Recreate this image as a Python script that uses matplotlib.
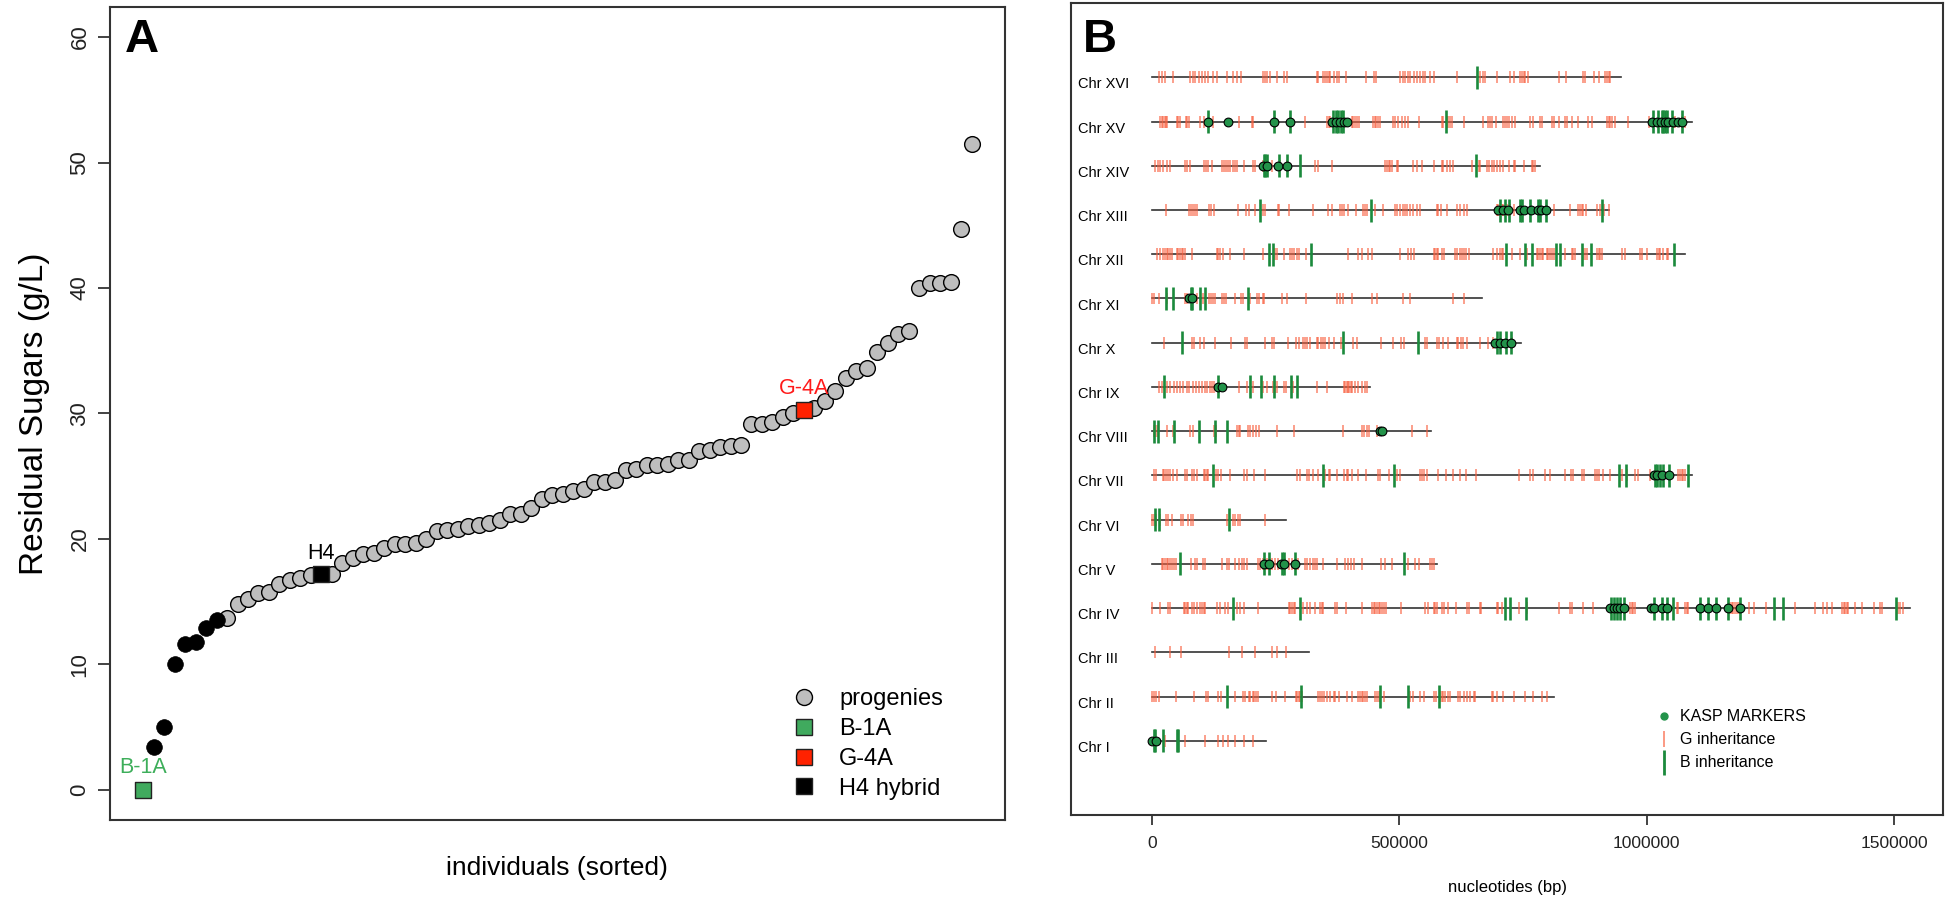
import numpy as np
import matplotlib
matplotlib.use("Agg")
import matplotlib.pyplot as plt
from matplotlib.lines import Line2D

plt.rcParams['font.family'] = ['Liberation Sans', 'DejaVu Sans']

# ---- panel A data: residual sugars of sorted individuals
sugars = [0.0,
          3.4, 5.0, 10.0, 11.6, 11.8, 12.9, 13.5,
          13.7, 14.8, 15.2, 15.7, 15.8, 16.4, 16.7, 16.9, 17.1,
          17.2, 17.2,
          18.1, 18.5, 18.8, 18.9, 19.3, 19.6, 19.6, 19.7, 20.0, 20.6, 20.7, 20.8,
          21.0, 21.1, 21.3, 21.5, 22.0, 22.0, 22.5, 23.2, 23.5, 23.6, 23.8, 24.0,
          24.5, 24.5, 24.7, 25.5, 25.6, 25.9, 25.9, 26.0, 26.3, 26.3, 27.0, 27.1,
          27.3, 27.4, 27.5,
          29.2, 29.2, 29.3, 29.7, 30.0,
          30.3, 30.4,
          31.0, 31.8, 32.8, 33.4, 33.6, 34.9, 35.6, 36.3, 36.6, 40.0, 40.4, 40.4,
          40.5, 44.7, 51.5]
b1a_pos = 1
black_pos = [2, 3, 4, 5, 6, 7, 8]
h4_pos = 18
g4a_pos = 64

# ---- panel B data (positions in kb), chromosomes I..XVI
chr_names = ['Chr I', 'Chr II', 'Chr III', 'Chr IV', 'Chr V', 'Chr VI', 'Chr VII',
             'Chr VIII', 'Chr IX', 'Chr X', 'Chr XI', 'Chr XII', 'Chr XIII',
             'Chr XIV', 'Chr XV', 'Chr XVI']
chr_len = [230, 813, 317, 1532, 577, 270, 1091, 563, 440, 745, 667, 1078, 924, 784, 1091, 948]

g_inherit = [
    [26, 67, 107, 134, 144, 154, 168, 185, 204],
    [0, 4, 8, 13, 49, 84, 109, 114, 134, 139, 168, 183, 188, 195, 198, 204, 207, 210, 214, 242,
     251, 269, 291, 294, 297, 299, 303, 336, 340, 343, 348, 353, 360, 367, 370, 377, 394, 404,
     417, 421, 424, 427, 431, 434, 451, 454, 458, 461, 468, 522, 528, 542, 549, 571, 574, 582,
     586, 589, 592, 599, 603, 619, 623, 630, 636, 643, 650, 653, 687, 690, 697, 710, 731, 754,
     771, 788, 798],
    [6, 36, 59, 156, 181, 208, 242, 252, 271],
    [0, 16, 32, 36, 65, 67, 70, 73, 80, 85, 90, 96, 100, 104, 106, 131, 137, 148, 154, 171, 178,
     185, 215, 276, 279, 282, 286, 289, 306, 313, 319, 330, 340, 343, 346, 370, 373, 392, 424,
     444, 448, 451, 454, 458, 461, 464, 468, 473, 503, 552, 557, 569, 572, 576, 586, 590, 599,
     615, 636, 640, 662, 665, 697, 700, 707, 741, 758, 822, 845, 849, 871, 891, 966, 970, 973,
     977, 1061, 1064, 1078, 1081, 1084, 1169, 1172, 1175, 1179, 1182, 1186, 1206, 1216, 1242,
     1299, 1341, 1357, 1364, 1374, 1394, 1398, 1401, 1405, 1408, 1422, 1435, 1459, 1472, 1475,
     1509, 1512, 1519],
    [20, 23, 26, 30, 33, 36, 40, 44, 49, 78, 87, 90, 102, 107, 141, 151, 156, 168, 175, 181, 185,
     191, 215, 218, 224, 232, 242, 249, 255, 269, 276, 282, 296, 309, 314, 319, 325, 330, 334,
     346, 373, 390, 397, 402, 408, 424, 462, 471, 485, 518, 532, 539, 562, 566, 569],
    [0, 4, 8, 15, 28, 33, 40, 58, 63, 73, 78, 83, 151, 163, 168, 173, 178, 228],
    [3, 8, 22, 25, 28, 33, 36, 43, 51, 67, 71, 80, 85, 90, 104, 107, 111, 114, 129, 134, 140, 158,
     185, 191, 206, 228, 293, 299, 314, 318, 326, 336, 350, 357, 360, 373, 388, 394, 397, 404,
     417, 433, 456, 460, 480, 496, 501, 541, 545, 549, 555, 579, 594, 609, 623, 635, 655, 741,
     764, 771, 795, 805, 835, 847, 852, 869, 874, 896, 899, 903, 911, 926, 950, 961, 977, 983,
     1006, 1064, 1068, 1071, 1074, 1078],
    [4, 8, 11, 30, 43, 77, 82, 125, 129, 171, 175, 178, 193, 198, 205, 210, 217, 253, 287, 387,
     424, 429, 434, 439, 454, 525, 555],
    [13, 20, 30, 36, 44, 51, 57, 63, 70, 75, 82, 89, 94, 100, 107, 111, 117, 121, 125, 175, 191,
     204, 225, 232, 244, 249, 253, 266, 271, 284, 334, 353, 388, 391, 394, 396, 399, 402, 404,
     410, 417, 424, 431, 434],
    [24, 80, 85, 97, 104, 127, 160, 188, 191, 228, 242, 247, 274, 291, 298, 305, 309, 314, 319,
     333, 336, 341, 345, 350, 357, 367, 381, 407, 414, 462, 487, 503, 510, 552, 555, 576, 581,
     588, 599, 616, 619, 624, 628, 636, 662, 680, 690, 727],
    [0, 4, 13, 30, 67, 71, 90, 102, 116, 119, 123, 127, 141, 146, 150, 168, 179, 183, 198, 212,
     217, 224, 226, 262, 272, 311, 373, 380, 387, 404, 444, 454, 508, 522, 609, 631],
    [9, 15, 23, 26, 30, 33, 36, 40, 50, 53, 57, 60, 63, 67, 80, 131, 134, 137, 144, 158, 185, 225,
     249, 252, 266, 279, 282, 287, 293, 298, 311, 397, 417, 424, 437, 444, 501, 518, 523, 530,
     569, 572, 576, 579, 586, 590, 613, 616, 623, 626, 630, 635, 640, 690, 697, 704, 707, 710,
     727, 744, 758, 778, 781, 785, 788, 791, 798, 801, 805, 808, 812, 835, 849, 852, 855, 872,
     876, 880, 899, 903, 906, 909, 950, 956, 987, 990, 1000, 1020, 1024, 1027, 1034, 1041, 1044],
    [28, 75, 78, 82, 87, 90, 116, 119, 125, 173, 190, 195, 208, 224, 228, 255, 257, 277, 325, 355,
     363, 379, 384, 388, 397, 412, 426, 431, 435, 451, 466, 491, 496, 501, 507, 512, 516, 522,
     528, 535, 542, 576, 579, 584, 596, 617, 623, 630, 636, 697, 700, 707, 710, 717, 724, 731,
     812, 845, 862, 865, 869, 872, 878, 900, 905, 913, 923],
    [6, 11, 16, 22, 30, 36, 67, 71, 77, 104, 109, 113, 121, 141, 146, 150, 154, 158, 163, 168,
     171, 185, 205, 208, 225, 232, 242, 259, 272, 330, 336, 363, 471, 474, 478, 481, 485, 495,
     498, 528, 535, 545, 569, 586, 589, 596, 603, 608, 646, 660, 663, 678, 682, 687, 691, 697,
     704, 710, 721, 731, 734, 751, 768, 771, 774],
    [17, 20, 23, 26, 28, 31, 50, 53, 57, 69, 71, 75, 97, 104, 124, 175, 202, 205, 309, 353, 357,
     360, 404, 407, 410, 414, 419, 446, 450, 453, 456, 460, 487, 491, 498, 505, 512, 518, 539,
     586, 589, 596, 599, 603, 606, 630, 670, 680, 683, 687, 696, 710, 714, 717, 721, 727, 734,
     764, 771, 785, 788, 808, 812, 822, 835, 838, 849, 862, 882, 889, 919, 923, 926, 929, 936,
     962, 1004, 1054, 1058, 1071, 1078],
    [13, 20, 26, 43, 77, 82, 87, 94, 100, 107, 114, 123, 131, 151, 164, 171, 180, 225, 228, 232,
     239, 252, 266, 272, 333, 336, 346, 350, 353, 357, 360, 367, 373, 377, 392, 433, 448, 452,
     501, 508, 512, 518, 522, 530, 535, 542, 547, 552, 561, 569, 616, 663, 670, 673, 697, 724,
     731, 744, 748, 751, 754, 761, 822, 837, 872, 876, 894, 903, 916, 919, 923, 926],
]

b_inherit = [
    [3, 6, 23, 50, 53],
    [152, 301, 461, 517, 580],
    [],
    [164, 299, 714, 724, 756, 928, 933, 940, 946, 954, 1014, 1031, 1041, 1053, 1108, 1123, 1140,
     1164, 1188, 1258, 1275, 1504],
    [57, 227, 237, 262, 267, 288, 510],
    [6, 13, 156],
    [124, 346, 489, 945, 958, 1017, 1020, 1027, 1033, 1045, 1083],
    [4, 11, 45, 94, 127, 152],
    [24, 133, 198, 220, 247, 280, 294],
    [61, 386, 537, 697, 704, 716, 726],
    [28, 42, 78, 81, 97, 106, 193],
    [237, 245, 321, 716, 753, 768, 817, 825, 869, 888, 1056],
    [218, 442, 704, 714, 721, 744, 748, 764, 781, 785, 797, 909],
    [226, 229, 232, 256, 272, 299, 654],
    [114, 247, 279, 365, 371, 376, 381, 387, 594, 1012, 1022, 1031, 1034, 1037, 1041, 1051, 1071],
    [656],
]

kasp = [
    [0, 8],
    [],
    [],
    [926, 933, 940, 946, 954, 1008, 1015, 1031, 1041, 1108, 1123, 1140, 1164, 1188],
    [227, 237, 260, 267, 288],
    [],
    [1014, 1020, 1031, 1046],
    [460, 464],
    [133, 141],
    [694, 704, 714, 726],
    [75, 81],
    [],
    [700, 710, 720, 744, 752, 766, 781, 786, 797],
    [224, 232, 255, 272],
    [114, 153, 247, 279, 363, 371, 380, 388, 394, 1010, 1020, 1029, 1037, 1044, 1053, 1064, 1071],
    [],
]

G_COL = '#F9603F'
B_COL = '#1B8A3C'
K_COL = '#23934A'

fig = plt.figure(figsize=(19.46, 8.98), dpi=100)

# ================= panel A
axA = fig.add_axes([0.0565, 0.0869, 0.4599, 0.9053])
x = np.arange(1, len(sugars) + 1)
y = np.array(sugars)
special = [b1a_pos, h4_pos, g4a_pos] + black_pos
grey_mask = np.array([i not in special for i in x])
axA.scatter(x[grey_mask], y[grey_mask], s=128, c='#BEBEBE', edgecolors='black', linewidths=1.0, zorder=3)
bi = np.array(black_pos) - 1
axA.scatter(x[bi], y[bi], s=128, c='black', edgecolors='black', linewidths=0.5, zorder=3)
sq = dict(marker='s', s=120, edgecolors='#222222', linewidths=1.0, zorder=4)
axA.scatter([b1a_pos], [sugars[b1a_pos - 1]], c='#40AA5E', **sq)
axA.scatter([h4_pos], [sugars[h4_pos - 1]], c='black', **sq)
axA.scatter([g4a_pos], [sugars[g4a_pos - 1]], c='#FF2200', **sq)

axA.annotate('B-1A', (b1a_pos, sugars[b1a_pos - 1]), xytext=(0, 22), textcoords='offset pixels',
             ha='center', va='center', color='#3DAE5A', fontsize=15.5)
axA.annotate('H4', (h4_pos, sugars[h4_pos - 1]), xytext=(0, 21), textcoords='offset pixels',
             ha='center', va='center', color='black', fontsize=15.5)
axA.annotate('G-4A', (g4a_pos, sugars[g4a_pos - 1]), xytext=(0, 21), textcoords='offset pixels',
             ha='center', va='center', color='#FF1A1A', fontsize=15.5)

n = len(sugars)
axA.set_xlim(1 - 0.04 * (n - 1), n + 0.04 * (n - 1))
axA.set_ylim(-2.4, 62.4)
axA.set_xticks([])
axA.set_yticks(range(0, 61, 10))
axA.tick_params(axis='y', length=9, width=1.2, labelsize=16, pad=5, colors='#222222')
for lab in axA.get_yticklabels():
    lab.set_rotation(90)
    lab.set_va('center')
axA.set_ylabel('Residual Sugars (g/L)', fontsize=24, labelpad=14)
axA.set_xlabel('individuals (sorted)', fontsize=19, labelpad=26)
for sp in axA.spines.values():
    sp.set_linewidth(1.5)
    sp.set_color('#333333')
axA.text(0.017, 0.9446, 'A', transform=axA.transAxes, fontsize=34, fontweight='bold', va='baseline')

handlesA = [
    Line2D([], [], ls='', marker='o', ms=11.5, mfc='#BEBEBE', mec='black', mew=1.0),
    Line2D([], [], ls='', marker='s', ms=11, mfc='#40AA5E', mec='#222222', mew=1.0),
    Line2D([], [], ls='', marker='s', ms=11, mfc='#FF2200', mec='#222222', mew=1.0),
    Line2D([], [], ls='', marker='s', ms=11, mfc='black', mec='#222222', mew=1.0),
]
axA.legend(handlesA, ['progenies', 'B-1A', 'G-4A', 'H4 hybrid'], loc='upper left',
           bbox_to_anchor=(0.762, 0.162), frameon=False, fontsize=17, borderpad=0,
           handlelength=1.0, handletextpad=1.0, labelspacing=0.33, borderaxespad=0)

# ================= panel B
axB = fig.add_axes([0.5504, 0.0924, 0.4481, 0.9042])
for i in range(len(chr_names)):
    yc = i + 1
    axB.plot([0, chr_len[i] * 1000], [yc, yc], color='#333333', lw=1.2, zorder=1)
    gp = np.array(g_inherit[i]) * 1000
    axB.vlines(gp, yc - 0.135, yc + 0.135, color=G_COL, alpha=0.7, lw=1.2, zorder=2)
    bp = np.array(b_inherit[i]) * 1000
    if len(bp):
        axB.vlines(bp, yc - 0.26, yc + 0.26, color=B_COL, lw=1.9, zorder=3)
    kp = np.array(kasp[i]) * 1000
    if len(kp):
        axB.plot(kp, np.full(len(kp), yc), ls='', marker='o', ms=6.3, mfc=K_COL, mec='black',
                 mew=0.8, zorder=4)
    axB.text(-149600, yc - 0.16, chr_names[i], ha='left', va='center', fontsize=10.5)

axB.set_xlim(-163800, 1599300)
axB.set_ylim(-0.68, 17.68)
axB.set_yticks([])
axB.set_xticks([0, 500000, 1000000, 1500000])
axB.set_xticklabels(['0', '500000', '1000000', '1500000'])
axB.tick_params(axis='x', length=7, width=1.2, labelsize=12.5, pad=8, colors='#222222')
axB.set_xlabel('nucleotides (bp)', fontsize=12, labelpad=21)
for sp in axB.spines.values():
    sp.set_linewidth(1.5)
    sp.set_color('#333333')
axB.text(0.0138, 0.9397, 'B', transform=axB.transAxes, fontsize=34, fontweight='bold', va='baseline')

handlesB = [
    Line2D([], [], ls='', marker='o', ms=5, mfc=K_COL, mec=K_COL),
    Line2D([], [], ls='', marker='|', ms=11, mew=1.2, color=G_COL, alpha=0.75),
    Line2D([], [], ls='', marker='|', ms=18, mew=2.0, color=B_COL),
]
axB.legend(handlesB, ['KASP MARKERS', 'G inheritance', 'B inheritance'], loc='upper left',
           bbox_to_anchor=(0.675, 0.13), frameon=False, fontsize=11.5, borderpad=0,
           handlelength=0.6, handletextpad=0.7, labelspacing=0.5, borderaxespad=0)

fig.savefig('out.png', dpi=100)
